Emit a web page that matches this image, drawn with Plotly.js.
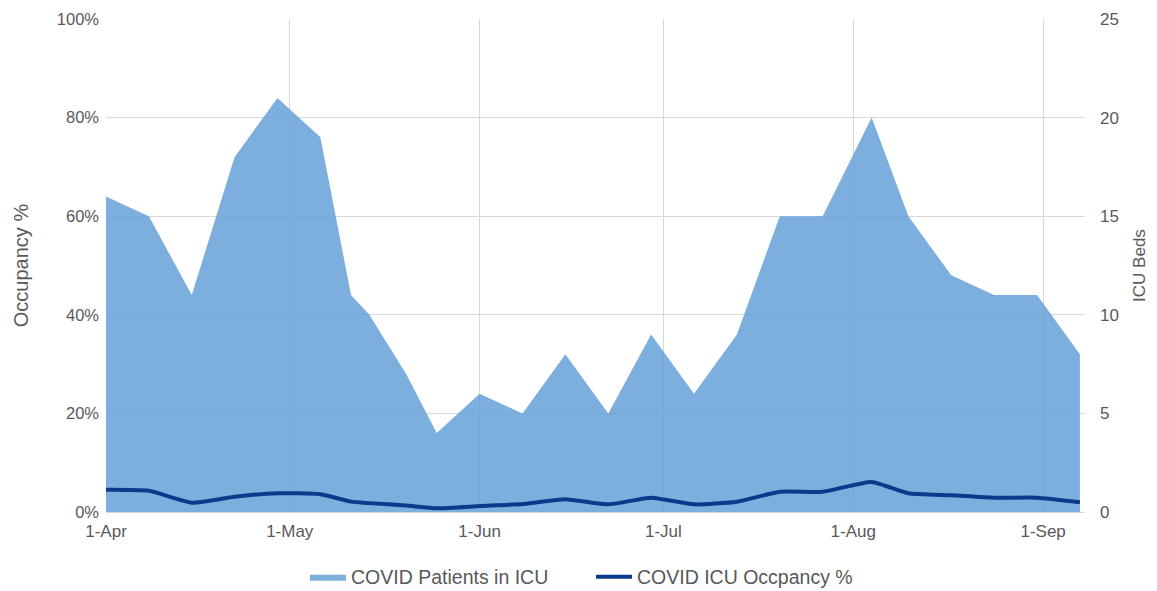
<!DOCTYPE html>
<html>
<head>
<meta charset="utf-8">
<script src="https://cdn.plot.ly/plotly-3.0.1.min.js"></script>
<style>html,body{margin:0;padding:0;background:#fff;}#chart{width:1157px;height:591px;}</style>
</head>
<body>
<div id="chart"></div>
<script>
const dates = ['2020-04-01','2020-04-08','2020-04-15','2020-04-22','2020-04-29','2020-05-06','2020-05-11','2020-05-14','2020-05-20','2020-05-25','2020-06-01','2020-06-08','2020-06-15','2020-06-22','2020-06-29','2020-07-06','2020-07-13','2020-07-20','2020-07-27','2020-08-04','2020-08-10','2020-08-17','2020-08-24','2020-08-31','2020-09-07'];
const icuPatients = [16,15,11,18,21,19,11,10,7,4,6,5,8,5,9,6,9,15,15,20,15,12,11,11,8];
const icuOccupancy = [0.045,0.043,0.019,0.031,0.038,0.036,0.021,0.018,0.013,0.0075,0.012,0.016,0.026,0.0155,0.029,0.0155,0.021,0.041,0.041,0.061,0.038,0.034,0.029,0.029,0.020];
const monthTicks = ['2020-04-01','2020-05-01','2020-06-01','2020-07-01','2020-08-01','2020-09-01'];
const monthLabels = ['1-Apr','1-May','1-Jun','1-Jul','1-Aug','1-Sep'];

const gray = '#595959';
const fam = 'Liberation Sans, Arial, sans-serif';

const traces = [
  {
    x: dates, y: icuPatients, name: 'COVID Patients in ICU', type: 'scatter', mode: 'lines',
    fill: 'tozeroy', fillcolor: 'rgba(91,155,213,0.8)', line: {width: 0, color: 'rgba(91,155,213,0.8)'},
    yaxis: 'y'
  },
  {
    x: dates, y: icuOccupancy, name: 'COVID ICU Occpancy %', type: 'scatter', mode: 'lines',
    line: {color: '#0B3A8C', width: 4, shape: 'spline', smoothing: 0.5},
    yaxis: 'y2'
  }
];

const layout = {
  width: 1157, height: 591,
  margin: {l: 106, r: 72, t: 19, b: 79, autoexpand: false},
  paper_bgcolor: '#fff', plot_bgcolor: '#fff',
  font: {family: fam, size: 16, color: gray},
  showlegend: true,
  legend: {orientation: 'h', x: 0.2033, xanchor: 'left', y: -0.132, yanchor: 'middle',
           font: {family: fam, size: 19.5, color: gray}, itemwidth: 36, entrywidth: 235, entrywidthmode: 'pixels'},
  xaxis: {
    type: 'date', range: ['2020-04-01', '2020-09-07 20:00'],
    tickvals: monthTicks, ticktext: monthLabels,
    showgrid: true, gridcolor: '#D9D9D9', gridwidth: 1,
    showline: true, linecolor: '#D9D9D9', linewidth: 1,
    ticks: '', ticklabelstandoff: 4,
    tickfont: {family: fam, size: 17, color: gray},
    zeroline: false
  },
  yaxis: {
    side: 'right', range: [0, 25], dtick: 5, tick0: 0,
    showgrid: true, gridcolor: '#D9D9D9', gridwidth: 1,
    zeroline: false, ticks: '', ticklabelstandoff: 14,
    tickfont: {family: fam, size: 17, color: gray},
    title: {text: 'ICU Beds', font: {family: fam, size: 17, color: gray}, standoff: 15}
  },
  yaxis2: {
    side: 'left', overlaying: 'y', range: [0, 1], dtick: 0.2, tick0: 0, tickformat: '.0%',
    showgrid: false, zeroline: false, ticks: '', ticklabelstandoff: 6,
    tickfont: {family: fam, size: 16.5, color: gray},
    title: {text: 'Occupancy %', font: {family: fam, size: 20, color: gray}, standoff: 22}
  }
};

Plotly.newPlot('chart', traces, layout, {displayModeBar: false, staticPlot: true});
</script>
</body>
</html>
